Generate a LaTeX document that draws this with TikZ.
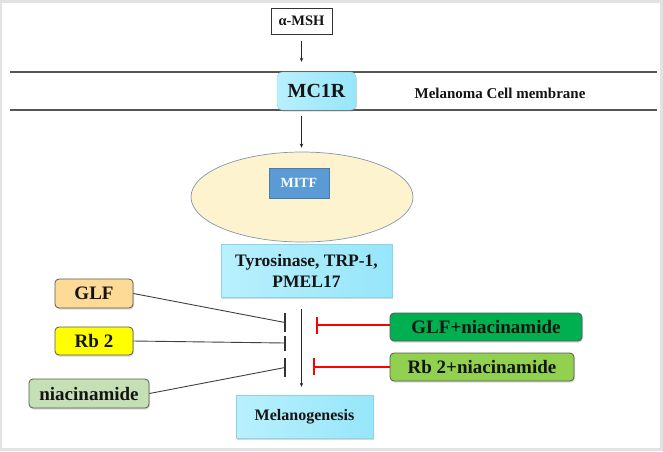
\documentclass[tikz,border=0pt]{standalone}
\usepackage{fontspec}
\setmainfont{Liberation Serif}
\usetikzlibrary{arrows.meta,shadows,shapes.geometric}
\definecolor{framegray}{RGB}{226,226,226}
\definecolor{cyanbox}{RGB}{150,230,250}
\definecolor{cyanlight}{RGB}{185,240,253}
\definecolor{mitfblue}{RGB}{91,155,213}
\definecolor{ellfill}{RGB}{253,243,207}
\definecolor{ellline}{RGB}{132,151,176}
\definecolor{glffill}{RGB}{253,218,150}
\definecolor{rbfill}{RGB}{255,255,0}
\definecolor{niafill}{RGB}{197,224,180}
\definecolor{dgreen}{RGB}{0,176,80}
\definecolor{lgreen}{RGB}{146,208,80}
\definecolor{txt}{RGB}{20,20,20}
\definecolor{memline}{RGB}{85,85,85}
\definecolor{inhred}{RGB}{255,0,0}
\tikzset{
  x=1pt,y=-1pt,
  every node/.style={text=txt,font=\bfseries},
  cyanrect/.style={draw=cyanbox!80!black!40!cyanbox,left color=cyanlight,right color=cyanbox,inner sep=0pt,align=center,drop shadow={shadow xshift=1pt,shadow yshift=-1.5pt,opacity=0.3}},
  agentbox/.style={draw=black!65,rounded corners=4pt,inner sep=0pt,line width=0.8pt,font=\bfseries\fontsize{19}{21}\selectfont,drop shadow={shadow xshift=1pt,shadow yshift=-1.5pt,opacity=0.3}},
  blackline/.style={draw=black!75,line width=0.9pt},
  inhbar/.style={draw=black!80,line width=1.4pt},
  redinh/.style={draw=inhred,line width=2pt,-{Bar[width=17pt,line width=2pt]}},
  arr/.style={draw=black!85,line width=0.9pt,-{Stealth[length=4pt,width=3.5pt]}},
}
\begin{document}
\begin{tikzpicture}
\fill[framegray] (0,0) rectangle (663,451);
\fill[white] (2,3) rectangle (660,448);
\useasboundingbox (0,0) rectangle (663,451);

% membrane
\coordinate (m1l) at (10,72);
\coordinate (m1r) at (657,72);
\coordinate (m2l) at (10,110);
\coordinate (m2r) at (657,110);
\draw[memline,line width=1.3pt] (m1l) -- (m1r);
\draw[memline,line width=1.3pt] (m2l) -- (m2r);

\node[draw=black!80,line width=1pt,minimum width=61pt,minimum height=26pt,inner sep=0pt,font=\bfseries\fontsize{14.5}{16}\selectfont] (alpha) at (301.5,21) {α-MSH};
\node[cyanrect,rounded corners=5pt,minimum width=79pt,minimum height=38pt,font=\bfseries\fontsize{20}{22}\selectfont] (mc1r) at (316.5,91) {MC1R};
\node[font=\bfseries\fontsize{15}{17}\selectfont] (memtext) at (500,93) {Melanoma Cell membrane};

\node[ellipse,draw=ellline,fill=ellfill,line width=0.7pt,minimum width=222pt,minimum height=90pt,inner sep=0pt] (ell) at (302,197) {};
\node[fill=mitfblue,draw=mitfblue!80!black,minimum width=60pt,minimum height=30pt,inner sep=0pt,text=white,font=\bfseries\fontsize{14}{16}\selectfont] (mitf) at (299,183) {MITF};

\node[cyanrect,minimum width=171pt,minimum height=53pt,font=\bfseries\fontsize{17.5}{21}\selectfont] (tyr) at (306.5,270.5) {Tyrosinase, TRP-1,\\PMEL17};
\node[cyanrect,minimum width=137pt,minimum height=43pt,font=\bfseries\fontsize{16}{18}\selectfont] (mel) at (304.5,416.5) {Melanogenesis};

\node[agentbox,fill=glffill,minimum width=78pt,minimum height=29pt] (glf) at (94,293.5) {GLF};
\node[agentbox,fill=rbfill,minimum width=78pt,minimum height=28pt] (rb) at (94,341) {Rb 2};
\node[agentbox,fill=niafill,minimum width=120pt,minimum height=29pt] (nia) at (89,393.5) {niacinamide};
\node[agentbox,fill=dgreen,minimum width=192pt,minimum height=28pt] (glfn) at (486,327) {GLF+niacinamide};
\node[agentbox,fill=lgreen,minimum width=184pt,minimum height=28pt] (rbn) at (482,367) {Rb 2+niacinamide};

% arrows
\draw[arr,shorten <=6pt,shorten >=10pt] (alpha.south) -- (alpha.south |- mc1r.north);
\draw[arr,shorten <=6pt,shorten >=4pt] (alpha.south |- mc1r.south) -- (alpha.south |- ell.north);
\draw[arr,shorten <=12pt,shorten >=8pt] (alpha.south |- tyr.south) -- (alpha.south |- mel.north);

% black inhibitions
\coordinate (b1) at (285,322.5);
\coordinate (b2) at (285,343);
\coordinate (b3) at (285,367.5);
\draw[blackline] (glf.east) -- (b1);
\draw[blackline] (rb.east) -- (b2);
\draw[blackline] (nia.east) -- (b3);
\draw[inhbar] ([yshift=-9.5pt]b1) -- ([yshift=9.5pt]b1);
\draw[inhbar] ([yshift=-7.5pt]b2) -- ([yshift=7.5pt]b2);
\draw[inhbar] ([yshift=-9.5pt]b3) -- ([yshift=9.5pt]b3);

% red inhibitions
\coordinate (r1) at (316,325);
\coordinate (r2) at (313,366.5);
\draw[redinh] (glfn.west |- r1) -- (r1);
\draw[redinh] (rbn.west |- r2) -- (r2);
\end{tikzpicture}
\end{document}
